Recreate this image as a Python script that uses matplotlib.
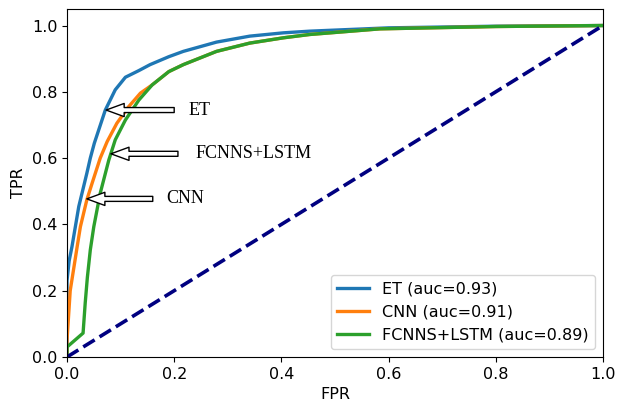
import numpy as np
import matplotlib
matplotlib.use('Agg')
import matplotlib.pyplot as plt

# ROC points
et_fpr = [0, 0, 0.004, 0.0093, 0.022, 0.037, 0.0435, 0.051, 0.0715, 0.09, 0.109, 0.134, 0.155,
          0.19, 0.217, 0.279, 0.341, 0.404, 0.453, 0.6, 0.8, 1.0]
et_tpr = [0, 0.23, 0.29, 0.333, 0.454, 0.554, 0.6, 0.645, 0.745, 0.806, 0.844, 0.864, 0.882,
          0.906, 0.922, 0.95, 0.968, 0.978, 0.983, 0.993, 0.998, 1.0]

cnn_fpr = [0, 0, 0.006, 0.019, 0.025, 0.037, 0.047, 0.062, 0.075, 0.093, 0.115, 0.137, 0.159,
           0.19, 0.217, 0.279, 0.341, 0.404, 0.453, 0.584, 0.8, 1.0]
cnn_tpr = [0, 0.05, 0.2, 0.333, 0.393, 0.474, 0.525, 0.6, 0.65, 0.705, 0.755, 0.796, 0.821,
           0.861, 0.882, 0.922, 0.947, 0.963, 0.973, 0.99, 0.997, 1.0]

fl_fpr = [0, 0, 0.03, 0.034, 0.038, 0.0435, 0.05, 0.062, 0.078, 0.09, 0.109, 0.134, 0.159,
          0.19, 0.217, 0.279, 0.341, 0.404, 0.453, 0.584, 0.8, 1.0]
fl_tpr = [0, 0.03, 0.072, 0.163, 0.24, 0.323, 0.393, 0.494, 0.594, 0.655, 0.715, 0.775, 0.821,
          0.861, 0.882, 0.922, 0.947, 0.963, 0.973, 0.99, 0.997, 1.0]

labels = ['ET (auc=0.93)', 'CNN (auc=0.91)', 'FCNNS+LSTM (auc=0.89)']

# arrow tips, tails and the label placed to the right
notes = ['ET', 'FCNNS+LSTM', 'CNN']
note_tip = [(0.073, 0.745), (0.082, 0.613), (0.037, 0.477)]
note_tail = [(0.20, 0.745), (0.207, 0.613), (0.16, 0.477)]
note_text = [(0.226, 0.745), (0.239, 0.613), (0.185, 0.477)]

fig = plt.figure(figsize=(6.18, 4.07), dpi=100)
ax = fig.add_axes([0.1084, 0.1229, 0.8673, 0.8551])

ax.plot(et_fpr, et_tpr, color='#1f77b4', lw=2.4, label=labels[0])
ax.plot(cnn_fpr, cnn_tpr, color='#ff7f0e', lw=2.4, label=labels[1])
ax.plot(fl_fpr, fl_tpr, color='#2ca02c', lw=2.4, label=labels[2])
ax.plot([0, 1], [0, 1], color='navy', lw=2.6, linestyle='--')

ax.set_xlim(0, 1.0)
ax.set_ylim(0, 1.05)
ax.set_xlabel('FPR', fontsize=11.5)
ax.set_ylabel('TPR', fontsize=11.5)
ax.tick_params(labelsize=11.5)
ax.legend(loc='lower right', fontsize=11.5)

for name, tip, tail, pos in zip(notes, note_tip, note_tail, note_text):
    ax.annotate('', xy=tip, xytext=tail,
                arrowprops=dict(arrowstyle='simple,head_length=1.3,head_width=0.95,tail_width=0.36',
                                fc='white', ec='black', lw=1, shrinkA=0, shrinkB=0,
                                mutation_scale=10))
    ax.text(pos[0], pos[1], name, family='Liberation Serif', fontsize=13, va='center', ha='left')

plt.savefig('out.png', dpi=100)
